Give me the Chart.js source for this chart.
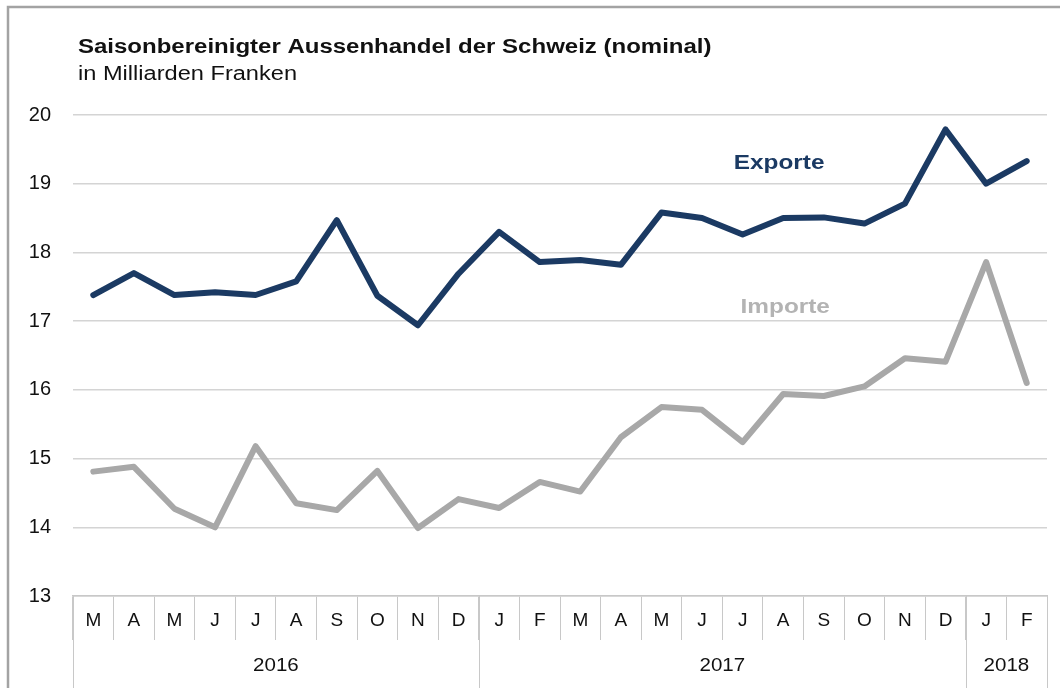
<!DOCTYPE html>
<html>
<head>
<meta charset="utf-8">
<script src="https://cdn.jsdelivr.net/npm/chart.js@4.4.1/dist/chart.umd.min.js"></script>
<style>
  html, body { margin: 0; padding: 0; background: #fff; }
  #wrap { width: 1060px; height: 688px; position: relative; }
</style>
</head>
<body>
<div id="wrap"><canvas id="myChart"></canvas></div>
<script>
// Monatsdaten März 2016 bis Februar 2018
const months = ['M', 'A', 'M', 'J', 'J', 'A', 'S', 'O', 'N', 'D',
                'J', 'F', 'M', 'A', 'M', 'J', 'J', 'A', 'S', 'O', 'N', 'D',
                'J', 'F'];
const years = ['2016', '2017', '2018'];
const monthsPerYear = [10, 12, 2];

const exporte = [17.38, 17.70, 17.38, 17.42, 17.38, 17.58, 18.47, 17.37, 16.94, 17.69,
                 18.30, 17.86, 17.89, 17.82, 18.58, 18.50, 18.26, 18.50, 18.51, 18.42, 18.71, 19.79,
                 19.00, 19.33];
const importe = [14.81, 14.88, 14.27, 14.00, 15.18, 14.35, 14.25, 14.82, 13.99, 14.41,
                 14.28, 14.66, 14.52, 15.31, 15.75, 15.71, 15.24, 15.94, 15.91, 16.05, 16.46, 16.41,
                 17.86, 16.10];

const yMin = 13;
const yMax = 20;

const FONT = '"Liberation Sans", Arial, sans-serif';
const navy = '#1b3a63';
const grey = '#a8a8a8';

// Text leicht in die Breite gezogen, wie im Original
function wideText(ctx, txt, x, y, sx) {
  ctx.save();
  ctx.translate(x, y);
  ctx.scale(sx, 1);
  ctx.fillText(txt, 0, 0);
  ctx.restore();
}

// Titel, Rahmen, Serienbeschriftung und Jahreszeile
const extras = {
  id: 'extras',
  afterDraw(chart) {
    const ctx = chart.ctx;
    const x = chart.scales.x;
    const y = chart.scales.y;
    const area = chart.chartArea;
    ctx.save();

    // Rahmen oben/links
    ctx.strokeStyle = '#a3a3a3';
    ctx.lineWidth = 2.5;
    ctx.beginPath();
    ctx.moveTo(8, 700);
    ctx.lineTo(8, 7);
    ctx.lineTo(1070, 7);
    ctx.stroke();

    // Titel
    ctx.fillStyle = '#111';
    ctx.textAlign = 'left';
    ctx.textBaseline = 'alphabetic';
    ctx.font = 'bold 20px ' + FONT;
    wideText(ctx, 'Saisonbereinigter Aussenhandel der Schweiz (nominal)', 78, 53, 1.2);
    ctx.font = '20px ' + FONT;
    wideText(ctx, 'in Milliarden Franken', 78, 80, 1.18);

    // Serienbeschriftung
    ctx.textAlign = 'center';
    ctx.textBaseline = 'middle';
    ctx.font = 'bold 21px ' + FONT;
    ctx.fillStyle = navy;
    wideText(ctx, 'Exporte', x.getPixelForValue(16.9), y.getPixelForValue(19.3), 1.16);
    ctx.fillStyle = '#b3b3b3';
    wideText(ctx, 'Importe', x.getPixelForValue(17.05), y.getPixelForValue(17.2), 1.16);

    // Jahresgruppen
    ctx.strokeStyle = '#c8c8c8';
    ctx.lineWidth = 1;
    ctx.font = '19px ' + FONT;
    ctx.fillStyle = '#111';
    const half = (x.getPixelForValue(1) - x.getPixelForValue(0)) / 2;
    let start = 0;
    years.forEach((yr, k) => {
      const end = start + monthsPerYear[k] - 1;
      const left = x.getPixelForValue(start) - half;
      const right = x.getPixelForValue(end) + half;
      [left, right].forEach(px => {
        const p = Math.round(px) + 0.5;
        ctx.beginPath();
        ctx.moveTo(p, area.bottom);
        ctx.lineTo(p, chart.height);
        ctx.stroke();
      });
      wideText(ctx, yr, (left + right) / 2, 666, 1.08);
      start = end + 1;
    });
    ctx.restore();
  }
};

new Chart(document.getElementById('myChart'), {
  type: 'line',
  data: {
    labels: months,
    datasets: [{
      label: 'Exporte',
      data: exporte,
      borderColor: navy,
      borderWidth: 6,
      pointRadius: 0,
      tension: 0,
      borderJoinStyle: 'round',
      borderCapStyle: 'round'
    }, {
      label: 'Importe',
      data: importe,
      borderColor: grey,
      borderWidth: 6,
      pointRadius: 0,
      tension: 0,
      borderJoinStyle: 'round',
      borderCapStyle: 'round'
    }]
  },
  options: {
    responsive: true,
    maintainAspectRatio: false,
    animation: false,
    layout: { padding: { top: 115, right: 13, bottom: 0, left: 0 } },
    plugins: {
      legend: { display: false },
      tooltip: { enabled: false }
    },
    scales: {
      x: {
        offset: true,
        grid: {
          offset: true,
          drawOnChartArea: false,
          tickLength: 44,
          color: '#c8c8c8',
          lineWidth: 1
        },
        border: { color: '#c8c8c8', width: 1.5 },
        ticks: {
          color: '#111',
          font: { family: FONT, size: 19 },
          padding: -31,
          maxRotation: 0,
          autoSkip: false
        },
        afterFit(scale) { scale.height = 92; }
      },
      y: {
        min: yMin,
        max: yMax,
        grid: { color: '#d4d4d4', lineWidth: 1.5, drawTicks: false },
        border: { display: false },
        ticks: {
          stepSize: 1,
          color: '#111',
          font: { family: FONT, size: 20 },
          padding: 22
        },
        afterFit(scale) { scale.width = 73; }
      }
    }
  },
  plugins: [extras]
});
</script>
</body>
</html>
